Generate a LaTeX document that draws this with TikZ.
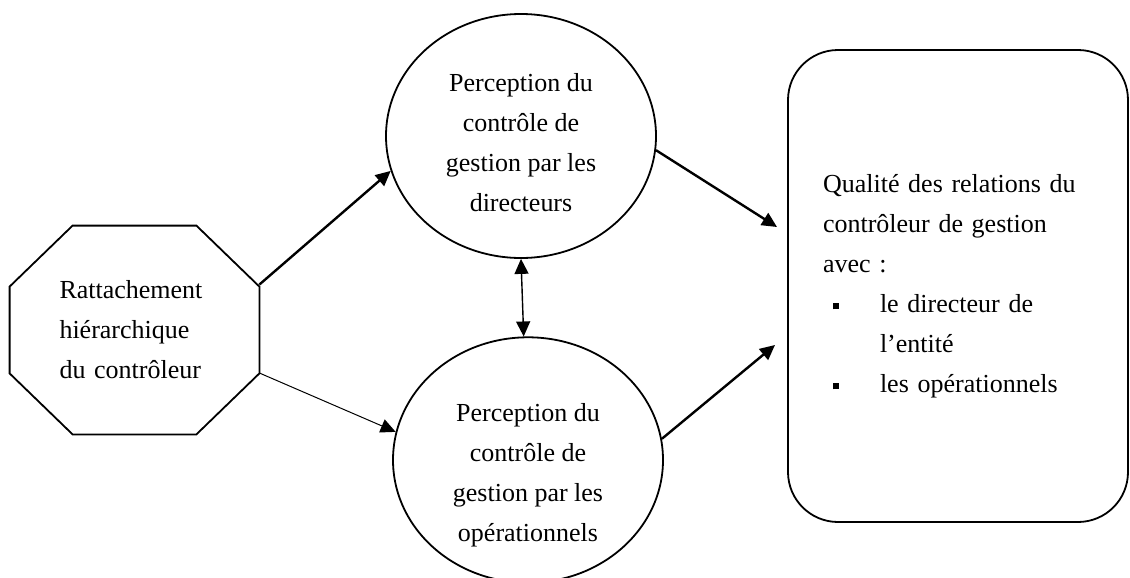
\documentclass[tikz,border=0pt]{standalone}
\usepackage{fontspec}
\setmainfont{Liberation Serif}
\usetikzlibrary{arrows.meta,shapes.geometric}

\newcommand{\puce}{\makebox[28.5pt][l]{\hspace*{5pt}\rule[1.5pt]{3pt}{3pt}}}

\begin{document}
\begin{tikzpicture}[x=0.5pt,y=-0.5pt,
    txt/.style={font=\fontsize{13}{20}\selectfont},
    bulle/.style={ellipse, draw, line width=0.9pt, minimum width=135pt, inner sep=0pt, txt, align=center},
    fleche/.style={-{Triangle[length=7.5pt,width=7pt]}, line width=1.2pt},
    fine/.style={-{Triangle[length=7.5pt,width=7pt]}, line width=0.5pt}]
    \useasboundingbox (0,0) rectangle (1130,578);
    % Octogone de gauche
    \node[minimum width=124.5pt, minimum height=104pt, text width=75pt, txt, align=left] (rattach) at (134.5,330)
          {Rattachement\\hiérarchique\\du contrôleur};
    \draw[line width=0.9pt] ([xshift=31.5pt]rattach.north west) -- ([xshift=-31.5pt]rattach.north east)
        -- ([yshift=-30.5pt]rattach.north east) -- ([yshift=30.5pt]rattach.south east)
        -- ([xshift=-31.5pt]rattach.south east) -- ([xshift=31.5pt]rattach.south west)
        -- ([yshift=30.5pt]rattach.south west) -- ([yshift=-30.5pt]rattach.north west) -- cycle;
    % Les deux perceptions
    \node[bulle, minimum height=122pt] (dir) at (521,136) {\rule{0pt}{16pt}Perception du\\contrôle de\\gestion par les\\directeurs};
    \node[bulle, minimum height=118pt] (ope) at (528,460) {\rule{0pt}{24pt}Perception du\\contrôle de\\gestion par les\\opérationnels};
    % Cadre de droite
    \node[draw, rounded corners=25pt, line width=0.9pt, minimum width=170pt, minimum height=236pt,
          text width=135pt, txt, align=left] (qual) at (958,286)
          {Qualité des relations du\\contrôleur de gestion\\avec :\\\puce le directeur de\\\hspace*{28.5pt}l’entité\\\puce les opérationnels};
    \coordinate (in1) at (777,227);
    \coordinate (in2) at (775,345);
    % Fleches
    \draw[fleche] (rattach.20) -- (dir.195.5);
    \draw[fine] (rattach.-19) -- (ope.168.4);
    \draw[{Triangle[length=7.5pt,width=7pt]}-{Triangle[length=7.5pt,width=7pt]}, line width=0.7pt] (dir.-90) -- (ope.92);
    \draw[fleche] (dir.-6) -- (in1);
    \draw[fleche] (ope.9.7) -- (in2);
\end{tikzpicture}
\end{document}
